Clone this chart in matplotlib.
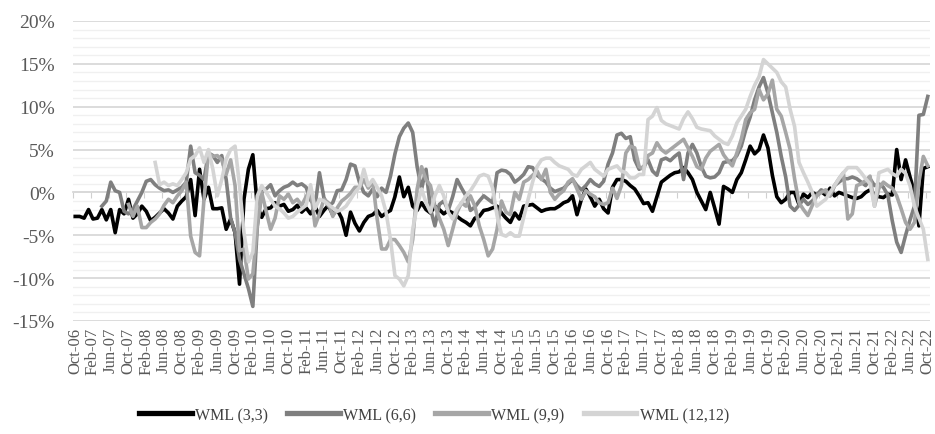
import numpy as np
import pandas as pd
import matplotlib
matplotlib.use('Agg')
import matplotlib.pyplot as plt
from matplotlib.ticker import MultipleLocator, FuncFormatter

# monthly categories Oct-06 .. Oct-22
months = pd.date_range('2006-10-01', '2022-10-01', freq='MS')
month_labels = [d.strftime('%b-%y') for d in months]

# values in %; each series ends in Oct-22
wml_3_3 = [
    -2.8, -2.8, -3.0, -2.0, -3.1, -3.0, -2.0, -3.2, -2.0, -4.7,
    -2.0, -2.5, -0.8, -3.0, -2.5, -1.6, -2.2, -3.3, -2.9, -2.4,
    -1.9, -2.4, -3.1, -1.6, -1.0, -0.5, 1.5, -2.7, 2.7, -0.8,
    0.6, -1.9, -1.9, -1.8, -4.3, -3.1, -4.7, -10.7, -0.8, 2.7,
    4.4, -1.6, -2.9, -1.9, -1.8, -1.2, -1.6, -1.4, -2.2, -2.0,
    -1.5, -2.3, -1.8, -2.5, -1.6, -2.8, -2.1, -1.5, -2.6, -2.0,
    -3.0, -5.0, -2.3, -3.6, -4.5, -3.5, -2.8, -2.6, -2.1, -2.8,
    -2.4, -2.1, -0.5, 1.8, -0.5, 0.6, -1.6, -2.1, -1.2, -2.0,
    -2.4, -1.6, -2.0, -2.5, -2.1, -2.4, -2.8, -3.2, -3.5, -3.9,
    -3.0, -2.8, -2.1, -2.0, -1.8, -1.6, -2.4, -3.0, -3.5, -2.4,
    -3.1, -1.6, -1.5, -1.4, -1.8, -2.2, -2.0, -1.9, -1.9, -1.6,
    -1.2, -1.0, -0.4, -2.6, -0.8, 0.4, -0.5, -1.6, -0.8, -1.9,
    -2.4, 0.6, 1.5, 1.5, 1.3, 0.8, 0.4, -0.4, -1.3, -1.2,
    -2.2, -0.5, 1.2, 1.6, 2.0, 2.3, 2.4, 2.9, 2.3, 1.5,
    0.0, -1.0, -2.0, 0.0, -1.8, -3.7, 0.7, 0.4, 0.0, 1.5,
    2.3, 3.8, 5.4, 4.5, 5.0, 6.7, 5.2, 2.0, -0.5, -1.2,
    -0.8, 0.0, 0.0, -1.4, -0.2, -0.6, 0.0, -0.3, 0.1, -0.3,
    0.5, -0.4, 0.0, -0.2, -0.4, -0.6, -0.7, -0.5, 0.0, 0.3,
    -0.2, -0.5, -0.6, -0.2, -0.3, 5.0, 1.5, 3.8, 1.8, 0.0,
    -3.9, 2.8, 3.0]

wml_6_6 = [
    -1.6, -1.0, 1.2, 0.2,
    0.0, -2.2, -2.5, -2.0, -1.0, 0.0, 1.3, 1.5, 0.9, 0.5,
    0.2, 0.3, 0.0, 0.3, 0.6, 1.2, 5.4, 2.3, 2.0, 1.5,
    4.6, 4.3, 3.5, 4.3, 1.5, -3.0, -4.7, -7.8, -9.5, -11.2,
    -13.3, -4.0, 0.0, 0.4, 0.9, -0.4, 0.2, 0.6, 0.8, 1.2,
    0.8, 1.0, 0.6, -0.9, -1.6, 2.3, -0.6, -1.6, -1.2, 0.2,
    0.3, 1.5, 3.3, 3.1, 1.2, 0.0, -0.4, 0.4, -0.5, 0.5,
    0.0, 1.9, 4.5, 6.5, 7.5, 8.1, 7.0, 3.0, 0.4, 2.7,
    -1.9, -3.9, -1.4, -1.0, -2.1, -0.5, 1.5, 0.5, -0.4, -2.1,
    -1.7, -1.0, -0.4, -0.8, -1.2, 2.3, 2.6, 2.5, 2.1, 1.2,
    1.6, 2.1, 3.0, 2.9, 2.0, 1.6, 1.2, 0.5, 0.1, 0.3,
    0.5, 1.0, 1.5, 0.8, 0.3, 0.8, 1.5, 1.0, 0.7, 1.3,
    3.3, 4.6, 6.7, 6.9, 6.3, 6.5, 3.8, 2.7, 3.0, 3.8,
    2.5, 2.0, 3.8, 4.0, 3.7, 4.2, 4.6, 1.5, 4.6, 5.6,
    4.6, 3.0, 1.9, 1.7, 1.8, 2.3, 3.5, 3.6, 3.7, 4.3,
    5.4, 7.3, 8.8, 10.8, 12.3, 13.4, 11.6, 9.3, 7.0, 4.2,
    1.8, -1.6, -2.1, -1.5, -0.8, -1.4, -1.0, -0.3, 0.3, 0.0,
    -0.4, 0.8, 1.2, 1.6, 1.6, 1.8, 1.6, 1.2, 0.8, 1.6,
    0.8, 1.0, 0.6, -0.3, -3.3, -5.8, -7.0, -5.0, -3.2, -1.6,
    9.0, 9.1, 11.2]

wml_9_9 = [
    -1.4, -2.8, -1.6, -4.1, -4.1, -3.5, -3.1, -2.5,
    -1.5, -0.8, -1.2, -0.4, 0.2, 1.2, -5.1, -7.0, -7.4, -0.8,
    4.6, 4.2, 4.3, 3.8, 2.1, 3.8, 0.8, -6.8, -6.6, -10.1,
    -9.5, -3.9, 0.0, -2.2, -4.3, -3.0, -0.4, -0.8, -0.2, -1.2,
    -0.8, -1.5, -0.5, 0.4, -3.9, -2.5, -0.8, -1.2, -2.8, -1.8,
    -1.0, -0.6, -0.1, 0.6, 0.6, 1.5, 0.5, 1.3, -3.1, -6.6,
    -6.6, -5.5, -5.5, -6.2, -7.0, -8.1, -5.5, 0.4, 3.0, 1.5,
    0.8, -1.6, -3.0, -4.3, -6.2, -4.3, -2.3, -1.2, -1.6, -0.4,
    -1.6, -3.9, -5.5, -7.4, -6.6, -4.3, -1.0, -2.3, -2.6, 0.0,
    -0.8, 1.2, 1.5, 2.0, 2.5, 1.5, 2.7, 0.0, -0.8, -0.2,
    0.2, 1.2, 1.6, 0.4, -0.8, 0.2, -0.2, -0.5, -1.2, -1.4,
    -1.2, 0.5, -0.7, 0.8, 4.6, 5.4, 5.2, 3.0, 2.7, 4.3,
    4.6, 5.8, 5.0, 4.6, 5.0, 5.4, 5.8, 6.2, 5.2, 4.2,
    3.0, 2.7, 4.0, 4.8, 5.2, 5.6, 4.4, 3.7, 3.1, 4.6,
    6.2, 8.5, 9.3, 9.7, 12.0, 10.8, 11.5, 13.1, 9.7, 8.9,
    7.0, 5.0, 1.6, -1.2, -2.0, -2.7, -1.5, -0.4, 0.0, 0.3,
    -0.4, 0.8, 1.6, 2.3, -3.1, -2.5, 0.8, 1.0, 1.4, 1.9,
    -1.6, 0.5, 1.2, 0.8, 0.5, -0.4, -1.9, -3.5, -4.3, -3.5,
    1.2, 4.2, 3.1]

wml_12_12 = [
    3.5, 0.9,
    1.2, 0.8, 1.0, 0.8, 1.5, 2.3, 3.9, 4.3, 5.2, 3.5,
    5.0, 2.7, -0.4, 1.5, 3.9, 5.0, 5.4, 0.8, -4.7, -8.1,
    -7.0, -0.4, 0.8, 0.0, -0.8, -1.6, -1.9, -2.4, -3.0, -2.8,
    -2.3, -1.9, -1.5, 0.9, -1.9, -0.8, -1.0, -1.4, -1.8, -2.2,
    -2.0, -1.6, -0.8, 0.0, 0.6, 2.7, 0.8, 1.5, 0.6, -0.4,
    -2.3, -5.5, -9.7, -10.1, -10.9, -9.7, -4.3, -1.6, 0.4, -1.2,
    -2.3, -0.4, 0.8, -0.4, -2.3, -3.1, -1.9, -1.2, -0.4, 0.2,
    1.0, 1.9, 2.1, 1.9, 0.5, -2.7, -4.9, -5.1, -4.7, -5.1,
    -5.1, -2.9, -0.8, 1.2, 3.0, 3.8, 4.0, 4.0, 3.5, 3.1,
    2.9, 2.7, 2.1, 1.9, 2.7, 3.1, 3.5, 2.7, 2.3, 1.9,
    2.7, 2.9, 3.1, 2.5, 2.3, 1.7, 1.7, 2.1, 2.1, 8.5,
    8.9, 9.9, 8.4, 8.0, 7.8, 7.6, 7.4, 8.6, 9.4, 8.6,
    7.6, 7.4, 7.3, 7.2, 6.6, 6.2, 5.8, 5.6, 6.6, 8.1,
    8.9, 9.7, 11.2, 12.5, 13.5, 15.5, 15.0, 14.5, 14.0, 12.9,
    12.3, 9.7, 7.7, 3.5, 2.3, 1.2, 0.0, -1.6, -1.2, -0.8,
    0.0, 0.8, 1.6, 2.3, 2.9, 2.9, 2.9, 2.3, 1.6, 1.0,
    -1.6, 2.3, 2.5, 2.7, 2.2, 1.9, 2.7, 2.2, 0.8, -1.6,
    -3.0, -4.3, -7.8]

series_names = ['WML (3,3)', 'WML (6,6)', 'WML (9,9)', 'WML (12,12)']
series_vals = [wml_3_3, wml_6_6, wml_9_9, wml_12_12]
colors = ['#000000', '#7f7f7f', '#a6a6a6', '#d4d4d4']

plt.rcParams['font.family'] = ['Liberation Serif', 'DejaVu Serif']

W, H = 935, 435
fig = plt.figure(figsize=(W/100, H/100), dpi=100)
ax = fig.add_axes([73/W, 1 - 322/H, (930 - 73)/W, 300/H])

n = len(months)
x_all = np.arange(n)
for name, vals, c in zip(series_names, series_vals, colors):
    ax.plot(x_all[n - len(vals):], np.array(vals) / 100, color=c, lw=2.6,
            label=name, solid_joinstyle='round', zorder=3)

ax.set_xlim(-0.5, n - 0.5)
ax.set_ylim(-0.15, 0.20)

ax.yaxis.set_major_locator(MultipleLocator(0.05))
ax.yaxis.set_minor_locator(MultipleLocator(0.01))
ax.yaxis.set_major_formatter(FuncFormatter(lambda v, _: f'{int(round(v*100))}%'))
ax.grid(which='major', axis='y', color='#d9d9d9', lw=1.3, zorder=0)
ax.grid(which='minor', axis='y', color='#f0f0f0', lw=1.0, zorder=0)
ax.set_axisbelow(True)
ax.tick_params(axis='y', which='both', length=0, labelsize=14,
               labelcolor='#595959', pad=13)

for s in ['top', 'right', 'left']:
    ax.spines[s].set_visible(False)
ax.spines['bottom'].set_position(('data', 0))
ax.spines['bottom'].set_color('#d9d9d9')
ax.spines['bottom'].set_linewidth(1.3)
ax.set_xticks(np.arange(-0.5, n, 4))
ax.tick_params(axis='x', length=4, color='#d0d0d0', labelbottom=False)

sec = ax.secondary_xaxis(0)
sec.set_xticks(x_all[::4], month_labels[::4])
sec.tick_params(length=0, labelsize=12, labelcolor='#595959',
                labelrotation=90, pad=4)
sec.spines['bottom'].set_visible(False)

leg = fig.legend(loc='center', bbox_to_anchor=(434/W, 1 - 416/H), ncol=4,
                 frameon=False, fontsize=11.5, handlelength=3.3,
                 handletextpad=0.2, columnspacing=1.2)
for h in leg.legend_handles:
    h.set_linewidth(3.8)
for t in leg.get_texts():
    t.set_color('#404040')

fig.savefig('out.png', dpi=100)
